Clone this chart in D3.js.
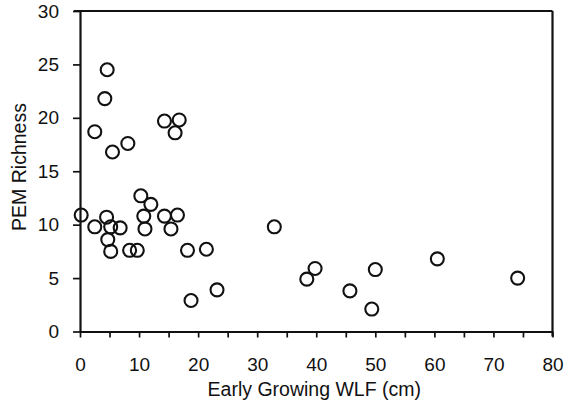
<!DOCTYPE html>
<html>
<head>
<meta charset="utf-8">
<script src="https://cdn.jsdelivr.net/npm/d3@7/dist/d3.min.js"></script>
<style>
  html, body { margin: 0; padding: 0; background: #fff; }
  svg { display: block; }
  text { font-family: "Liberation Sans", Arial, Helvetica, sans-serif; fill: #111; }
</style>
</head>
<body>
<svg id="chart" width="568" height="402"></svg>
<script>
// Early Growing WLF (cm)
const wlf = [4.6, 4.2, 2.5, 5.5, 8.1, 14.3, 16.8, 16.1,
             0.2, 2.5, 4.5, 5.2, 6.8, 4.7, 5.2, 8.4, 9.7,
             10.3, 12.0, 10.8, 11.0, 14.3, 16.5, 15.4, 18.2, 21.4,
             18.8, 23.2, 32.9, 39.8, 38.4, 45.7, 49.4, 50.0, 60.5, 74.1];
// PEM Richness
const richness = [24.5, 21.8, 18.7, 16.8, 17.6, 19.7, 19.8, 18.6,
                  10.9, 9.8, 10.7, 9.8, 9.7, 8.6, 7.5, 7.6, 7.6,
                  12.7, 11.9, 10.8, 9.6, 10.8, 10.9, 9.6, 7.6, 7.7,
                  2.9, 3.9, 9.8, 5.9, 4.9, 3.8, 2.1, 5.8, 6.8, 5.0];
const xTicks = [0, 10, 20, 30, 40, 50, 60, 70, 80];
const xMinorTicks = [5, 15, 25, 35, 45, 55, 65, 75];
const yTicks = [0, 5, 10, 15, 20, 25, 30];
const xTitle = "Early Growing WLF (cm)";
const yTitle = "PEM Richness";

const svg = d3.select("#chart");
const pLeft = 80, pRight = 552.5, pTop = 11, pBottom = 331.5;

const x = d3.scaleLinear().domain([0, 80]).range([pLeft, pRight]);
const y = d3.scaleLinear().domain([0, 30]).range([pBottom, pTop]);

// x axis
const xAxis = svg.append("g").attr("transform", `translate(0,${pBottom})`)
  .call(d3.axisBottom(x).tickValues(xTicks).tickSize(6).tickPadding(20).tickSizeOuter(0));
svg.append("g").attr("transform", `translate(0,${pBottom})`)
  .call(d3.axisBottom(x).tickValues(xMinorTicks).tickSize(6).tickFormat("").tickSizeOuter(0))
  .call(g => g.select(".domain").remove());

// y axis
const yAxis = svg.append("g").attr("transform", `translate(${pLeft},0)`)
  .call(d3.axisLeft(y).tickValues(yTicks).tickSize(7).tickPadding(14).tickSizeOuter(0));

[xAxis, yAxis].forEach(g => {
  g.selectAll("text").style("font-size", "19px").attr("fill", "#111");
});
svg.selectAll(".domain").attr("stroke", "#111").attr("stroke-width", 2.2);
svg.selectAll(".tick line").attr("stroke", "#111").attr("stroke-width", 1.7);

// top and right frame
svg.append("line").attr("x1", pLeft - 6).attr("x2", pRight).attr("y1", pTop).attr("y2", pTop)
  .attr("stroke", "#111").attr("stroke-width", 2.2);
svg.append("line").attr("x1", pRight).attr("x2", pRight).attr("y1", pTop).attr("y2", pBottom + 5)
  .attr("stroke", "#111").attr("stroke-width", 2.2);

// points
svg.append("g")
  .selectAll("circle").data(wlf.map((d, i) => [d, richness[i]]))
  .join("circle")
  .attr("cx", d => x(d[0]))
  .attr("cy", d => y(d[1]))
  .attr("r", 6.5)
  .attr("fill", "none")
  .attr("stroke", "#111")
  .attr("stroke-width", 2.1);

// titles
svg.append("text")
  .attr("x", (pLeft + pRight) / 2 - 2)
  .attr("y", 396)
  .attr("text-anchor", "middle")
  .style("font-size", "19.5px")
  .text(xTitle);

svg.append("text")
  .attr("transform", `translate(26,${167}) rotate(-90)`)
  .attr("text-anchor", "middle")
  .style("font-size", "19.5px")
  .text(yTitle);
</script>
</body>
</html>
